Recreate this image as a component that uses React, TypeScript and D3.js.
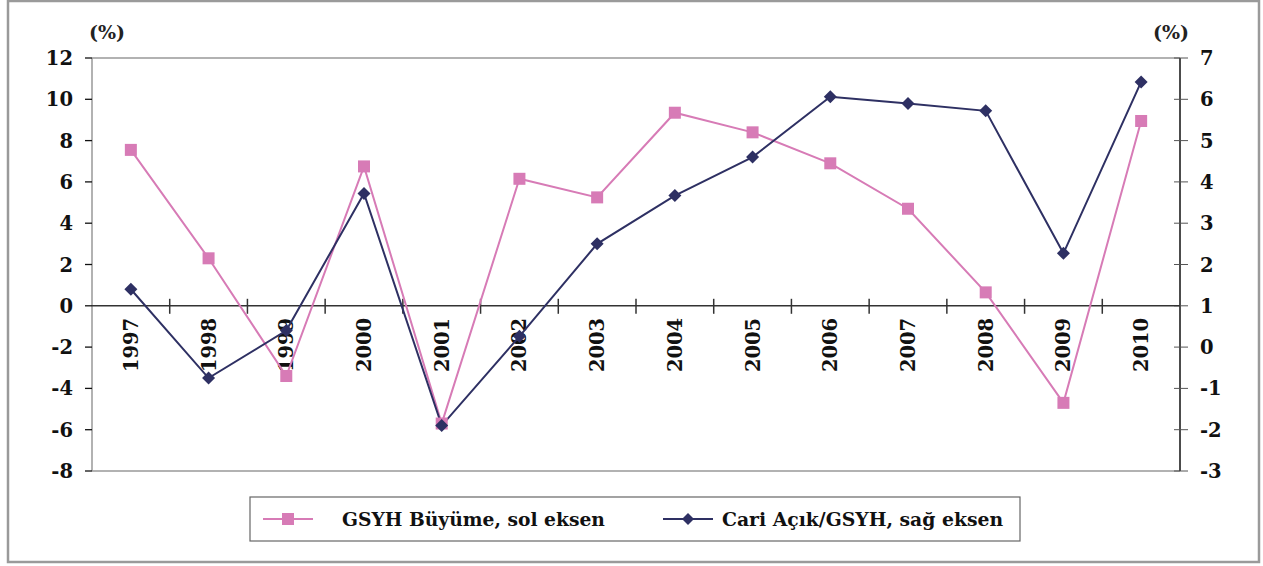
import React from "react";
import * as d3 from "d3";

const years = ["1997","1998","1999","2000","2001","2002","2003","2004","2005","2006","2007","2008","2009","2010"];
const gdpGrowth = [7.55, 2.3, -3.4, 6.75, -5.7, 6.15, 5.25, 9.35, 8.4, 6.9, 4.7, 0.65, -4.7, 8.95];
const currentAccount = [1.4, -0.75, 0.4, 3.72, -1.9, 0.26, 2.5, 3.67, 4.6, 6.06, 5.9, 5.72, 2.27, 6.42];
const leftTicks = [-8, -6, -4, -2, 0, 2, 4, 6, 8, 10, 12];
const rightTicks = [-3, -2, -1, 0, 1, 2, 3, 4, 5, 6, 7];
const legendLabels = ["GSYH Büyüme, sol eksen", "Cari Açık/GSYH, sağ eksen"];

const PINK = "#D77BB6";
const NAVY = "#2E3063";
const FONT = '"DejaVu Serif", serif';

export default function App() {
  const W = 1263, H = 566;
  const left = 92, right = 1180, top = 58, bottom = 471;
  const x = d3.scaleBand<string>().domain(years).range([left, right]);
  const yL = d3.scaleLinear().domain([-8, 12]).range([bottom, top]);
  const yR = d3.scaleLinear().domain([-3, 7]).range([bottom, top]);
  const cx = (d: string) => (x(d) as number) + x.bandwidth() / 2;
  const lineL = d3.line<number>().x((_, i) => cx(years[i])).y((d) => yL(d));
  const lineR = d3.line<number>().x((_, i) => cx(years[i])).y((d) => yR(d));
  const y0 = yL(0);
  const sq = 12;
  const diamond = (px: number, py: number, r: number) =>
    `M${px},${py - r}L${px + r},${py}L${px},${py + r}L${px - r},${py}Z`;
  const ts: React.CSSProperties = { fontFamily: FONT, fontWeight: 700 };

  return (
    <svg width={W} height={H} style={{ position: "absolute", left: 0, top: 0, fontFamily: FONT }}>
      <rect x={0} y={0} width={W} height={H} fill="#fff" />
      <rect x={8} y={1} width={1251} height={561} fill="none" stroke="#9a9a9a" strokeWidth={2.5} />
      {/* plot frame */}
      <line x1={left} x2={right} y1={top} y2={top} stroke="#999" strokeWidth={1.5} />
      <line x1={left} x2={right} y1={bottom} y2={bottom} stroke="#999" strokeWidth={1.5} />
      <line x1={left} x2={left} y1={top} y2={bottom} stroke="#999" strokeWidth={1.5} />
      <line x1={right} x2={right} y1={top} y2={bottom} stroke="#111" strokeWidth={1.5} />
      {/* left ticks */}
      {leftTicks.map((t) => (
        <g key={"l" + t}>
          <line x1={left - 7} x2={left} y1={yL(t)} y2={yL(t)} stroke="#111" strokeWidth={1.3} />
          <text x={left - 19} y={yL(t)} dy="0.36em" textAnchor="end" fontSize={19.5} style={ts} fill="#111">{t}</text>
        </g>
      ))}
      {/* right ticks */}
      {rightTicks.map((t) => (
        <g key={"r" + t}>
          <line x1={right - 6} x2={right + 8} y1={yR(t)} y2={yR(t)} stroke="#555" strokeWidth={1} />
          <text x={right + 20} y={yR(t)} dy="0.36em" textAnchor="start" fontSize={19.5} style={ts} fill="#111">{t}</text>
        </g>
      ))}
      <text x={107} y={32} dy="0.35em" textAnchor="middle" fontSize={19} style={ts} fill="#222">(%)</text>
      <text x={1171} y={32} dy="0.35em" textAnchor="middle" fontSize={19} style={ts} fill="#222">(%)</text>
      {/* x axis at zero */}
      <line x1={left} x2={right} y1={y0} y2={y0} stroke="#333" strokeWidth={1.5} />
      {years.slice(1).map((yv) => (
        <line key={"t" + yv} x1={x(yv) as number} x2={x(yv) as number} y1={y0 - 7} y2={y0 + 8} stroke="#333" strokeWidth={1.5} />
      ))}
      {years.map((yv) => (
        <text key={"x" + yv} transform={`translate(${cx(yv)},${y0 + 12}) rotate(-90)`} textAnchor="end" dy="0.36em" fontSize={19.5} style={ts} fill="#111">{yv}</text>
      ))}
      {/* series */}
      <path d={lineL(gdpGrowth) as string} fill="none" stroke={PINK} strokeWidth={2} />
      <path d={lineR(currentAccount) as string} fill="none" stroke={NAVY} strokeWidth={2} />
      {gdpGrowth.map((v, i) => (
        <rect key={"p" + i} x={cx(years[i]) - sq / 2} y={yL(v) - sq / 2} width={sq} height={sq} fill={PINK} />
      ))}
      {currentAccount.map((v, i) => (
        <path key={"n" + i} d={diamond(cx(years[i]), yR(v), 6.5)} fill={NAVY} />
      ))}
      {/* legend */}
      <rect x={250} y={497} width={770} height={44} fill="#fff" stroke="#666" strokeWidth={1.2} />
      <line x1={263} x2={313} y1={519} y2={519} stroke={PINK} strokeWidth={2} />
      <rect x={288 - 6} y={519 - 6} width={12} height={12} fill={PINK} />
      <text x={342} y={519} dy="0.36em" fontSize={18.7} style={ts} fill="#111">{legendLabels[0]}</text>
      <line x1={663} x2={713} y1={519} y2={519} stroke={NAVY} strokeWidth={2} />
      <path d={diamond(688, 519, 6)} fill={NAVY} />
      <text x={722} y={519} dy="0.36em" fontSize={18.8} style={ts} fill="#111">{legendLabels[1]}</text>
    </svg>
  );
}
